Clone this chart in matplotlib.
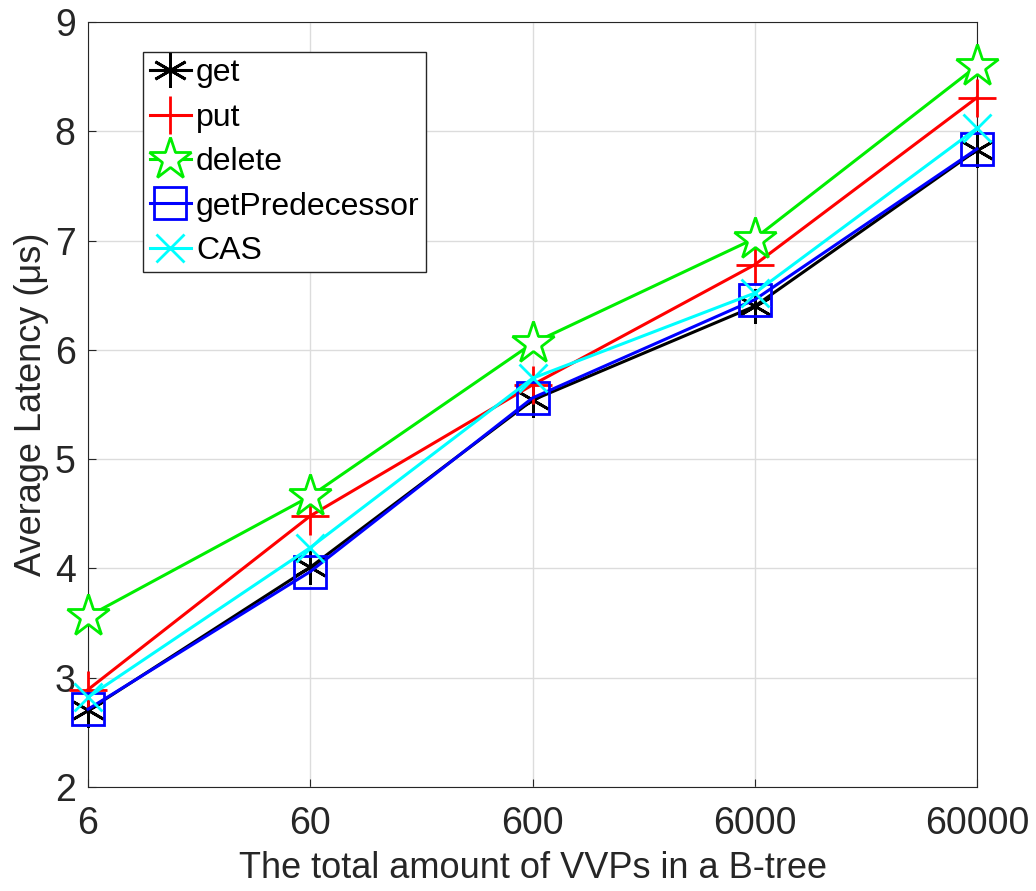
import numpy as np
import matplotlib.pyplot as plt

plt.rcParams['font.family'] = ['Liberation Sans', 'DejaVu Sans']

# ===== Datos =====
x_labels = ['6', '60', '600', '6000', '60000']
get_vals = [2.70, 4.01, 5.54, 6.40, 7.83]
put_vals = [2.89, 4.48, 5.68, 6.78, 8.31]
delete_vals = [3.56, 4.66, 6.06, 7.02, 8.60]
getpred_vals = [2.71, 3.97, 5.56, 6.46, 7.84]
cas_vals = [2.82, 4.19, 5.74, 6.52, 8.03]

x = np.arange(len(x_labels))

fig = plt.figure(figsize=(10.36, 8.91), dpi=100)
ax = fig.add_axes([0.085, 0.117, 0.858, 0.858])

# estilo tipo MATLAB
kw = dict(lw=2.2, clip_on=False, zorder=3)
ax.plot(x, get_vals, color='k', marker=(6, 2, 0), ms=25, mew=2, label='get', **kw)
ax.plot(x, put_vals, color='r', marker='+', ms=27, mew=2, label='put', **kw)
ax.plot(x, delete_vals, color='#00ee00', marker='*', ms=32, mfc='white',
        mec='#00ee00', mew=2, label='delete', **kw)
ax.plot(x, getpred_vals, color='b', marker='s', ms=23, mfc='none', mec='b',
        mew=2, label='getPredecessor', **kw)
ax.plot(x, cas_vals, color='cyan', marker='x', ms=20, mew=2, label='CAS', **kw)

ax.set_xlim(0, 4)
ax.set_ylim(2, 9)
ax.set_xticks(x)
ax.set_xticklabels(x_labels)
ax.set_yticks(range(2, 10))
ax.tick_params(direction='in', labelsize=27, colors='#262626', length=6)
ax.tick_params(axis='x', pad=14)
ax.tick_params(axis='y', pad=9)
ax.grid(True, color='#dcdcdc', lw=1)
ax.set_axisbelow(True)
for s in ax.spines.values():
    s.set_color('#262626')
ax.set_xlabel('The total amount of VVPs in a B-tree', fontsize=26, color='#262626',
              labelpad=6)
ax.set_ylabel('Average Latency (μs)', fontsize=26, color='#262626', labelpad=4)

leg = ax.legend(loc='upper left', bbox_to_anchor=(0.062, 0.961), fontsize=23,
                handlelength=1.3, handletextpad=0.15, borderpad=0.2,
                labelspacing=0.45, fancybox=False, framealpha=1,
                edgecolor='#262626', borderaxespad=0)
leg.get_frame().set_linewidth(1)

fig.savefig('out.png', dpi=100)
